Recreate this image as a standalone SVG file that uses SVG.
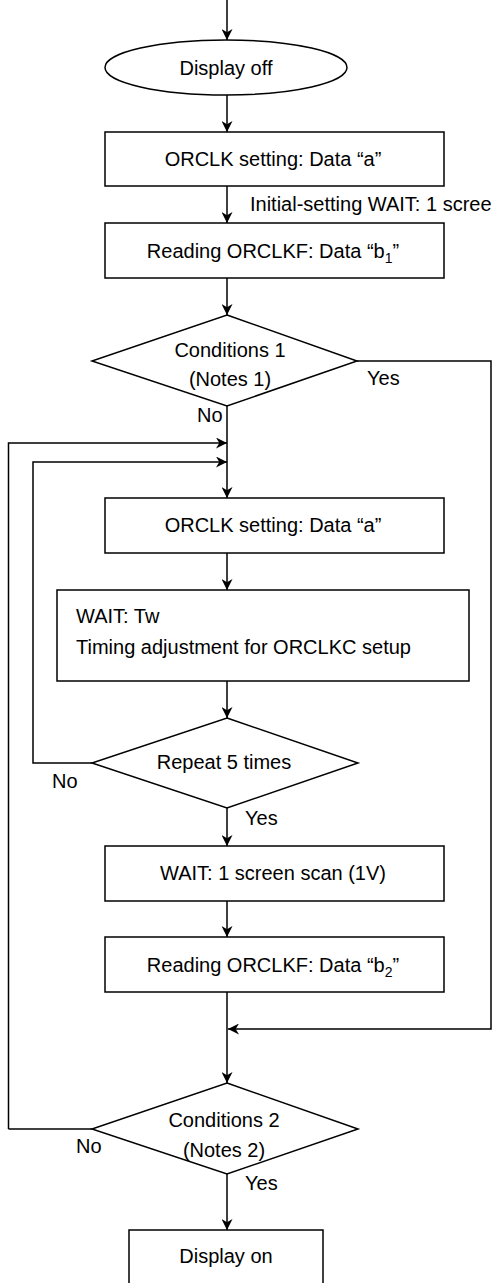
<svg xmlns="http://www.w3.org/2000/svg" width="492" height="1283" viewBox="0 0 492 1283">
<defs>
<marker id="ah" viewBox="0 0 10 10" refX="10" refY="5" markerWidth="11" markerHeight="11" markerUnits="userSpaceOnUse" orient="auto">
<path d="M0,0 L10,5 L0,10 L3,5 z" fill="#000"/>
</marker>
<style>
.s{fill:#fff;stroke:#000;stroke-width:1.5}
.t{font-family:"Liberation Sans",Arial,sans-serif;font-size:20px;fill:#000}
.m{text-anchor:middle}
.c{fill:none;stroke:#000;stroke-width:1.5}
.sub{font-size:14px}
</style>
</defs>
<rect width="492" height="1283" fill="#fff"/>
<g id="connectors">
<path class="c" d="M227,0 V40" marker-end="url(#ah)"/>
<path class="c" d="M227,95 V132" marker-end="url(#ah)"/>
<path class="c" d="M227,186 V223" marker-end="url(#ah)"/>
<path class="c" d="M227,278 V315" marker-end="url(#ah)"/>
<path class="c" d="M227,406 V498" marker-end="url(#ah)"/>
<path class="c" d="M8.5,1129 V443 H227" marker-end="url(#ah)"/>
<path class="c" d="M92,1129 H8.5"/>
<path class="c" d="M92,763 H33 V462 H227" marker-end="url(#ah)"/>
<path class="c" d="M227,553 V590" marker-end="url(#ah)"/>
<path class="c" d="M227,681 V718" marker-end="url(#ah)"/>
<path class="c" d="M227,808 V846" marker-end="url(#ah)"/>
<path class="c" d="M227,901 V937" marker-end="url(#ah)"/>
<path class="c" d="M227,992 V1083" marker-end="url(#ah)"/>
<path class="c" d="M357,361 H491 V1029 H228" marker-end="url(#ah)"/>
<path class="c" d="M227,1174 V1230" marker-end="url(#ah)"/>
<text class="t" x="250" y="211">Initial-setting WAIT: 1 scree</text>
<text class="t" x="367" y="385">Yes</text>
<text class="t" x="197" y="422">No</text>
<text class="t" x="52" y="788">No</text>
<text class="t" x="245" y="825">Yes</text>
<text class="t" x="76" y="1153">No</text>
<text class="t" x="245" y="1190">Yes</text>
</g>
<g id="display-off">
<ellipse class="s" cx="226" cy="67.5" rx="121" ry="27.5"/>
<text class="t m" x="226" y="75">Display off</text>
</g>
<g id="orclk-setting-1">
<rect class="s" x="105" y="132" width="339" height="54"/>
<text class="t m" x="273" y="166">ORCLK setting: Data “a”</text>
</g>
<g id="reading-b1">
<rect class="s" x="105" y="223" width="339" height="55"/>
<text class="t m" x="273" y="258">Reading ORCLKF: Data “b<tspan class="sub" dy="5">1</tspan><tspan dy="-5">”</tspan></text>
</g>
<g id="conditions-1">
<polygon class="s" points="227,315 357,361 227,406 92,361"/>
<text class="t m" x="230" y="357">Conditions 1</text>
<text class="t m" x="230" y="386">(Notes 1)</text>
</g>
<g id="orclk-setting-2">
<rect class="s" x="105" y="498" width="339" height="55"/>
<text class="t m" x="273" y="532">ORCLK setting: Data “a”</text>
</g>
<g id="wait-tw">
<rect class="s" x="57" y="590" width="412" height="91"/>
<text class="t" x="76" y="623">WAIT: Tw</text>
<text class="t" x="76" y="654">Timing adjustment for ORCLKC setup</text>
</g>
<g id="repeat-5">
<polygon class="s" points="227,718 358,763 227,808 92,763"/>
<text class="t m" x="224" y="769">Repeat 5 times</text>
</g>
<g id="wait-1v">
<rect class="s" x="105" y="846" width="339" height="55"/>
<text class="t m" x="273" y="880">WAIT: 1 screen scan (1V)</text>
</g>
<g id="reading-b2">
<rect class="s" x="105" y="937" width="339" height="55"/>
<text class="t m" x="273" y="972">Reading ORCLKF: Data “b<tspan class="sub" dy="5">2</tspan><tspan dy="-5">”</tspan></text>
</g>
<g id="conditions-2">
<polygon class="s" points="227,1083 358,1129 227,1174 92,1129"/>
<text class="t m" x="224" y="1127">Conditions 2</text>
<text class="t m" x="224" y="1157">(Notes 2)</text>
</g>
<g id="display-on">
<rect class="s" x="129" y="1230" width="194" height="62"/>
<text class="t m" x="226" y="1263">Display on</text>
</g>
</svg>
